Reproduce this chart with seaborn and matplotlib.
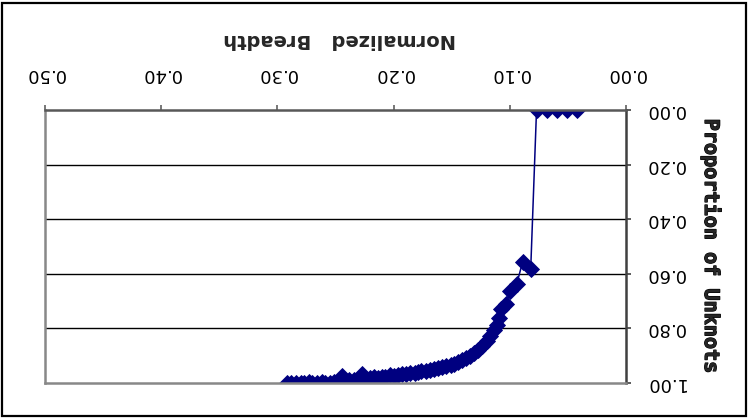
import matplotlib
matplotlib.use("Agg")
import matplotlib.pyplot as plt
import matplotlib.patches as mpatches
import matplotlib.patheffects as pe
import seaborn as sns
import pandas as pd

# Normalized breadth of each knot sample and the proportion of unknots found
breadth = [
    0.042, 0.051, 0.059, 0.068, 0.077,
    0.082, 0.089, 0.094, 0.100, 0.103, 0.108, 0.109, 0.111, 0.114, 0.117,
    0.120, 0.124, 0.127, 0.131, 0.134, 0.138, 0.141, 0.145, 0.148, 0.151,
    0.155, 0.158, 0.162, 0.165, 0.169, 0.172, 0.176, 0.179, 0.182, 0.186,
    0.189, 0.193, 0.196, 0.200, 0.203, 0.207, 0.210, 0.213, 0.217, 0.220,
    0.224, 0.227, 0.231, 0.234, 0.238, 0.241, 0.244, 0.248, 0.251, 0.255,
    0.259, 0.262, 0.266, 0.270, 0.273, 0.277, 0.280, 0.284, 0.288, 0.292,
]
unknots = [
    0.000, 0.000, 0.000, 0.000, 0.000,
    0.582, 0.557, 0.637, 0.663, 0.711, 0.729, 0.762, 0.788, 0.806, 0.828,
    0.846, 0.864, 0.879, 0.890, 0.901, 0.908, 0.916, 0.923, 0.930, 0.934,
    0.938, 0.941, 0.945, 0.949, 0.952, 0.956, 0.956, 0.960, 0.963, 0.963,
    0.967, 0.967, 0.971, 0.974, 0.971, 0.978, 0.978, 0.982, 0.978, 0.982,
    0.985, 0.967, 0.985, 0.989, 0.989, 0.993, 0.974, 0.996, 0.996, 1.000,
    1.000, 0.996, 1.000, 1.000, 0.996, 1.000, 1.000, 1.000, 1.000, 1.000,
]
x_ticks = [0.0, 0.1, 0.2, 0.3, 0.4, 0.5]
y_ticks = [0.0, 0.2, 0.4, 0.6, 0.8, 1.0]
x_title = "Normalized   Breadth"
y_title = "Proportion of Unknots"

df = pd.DataFrame({"breadth": breadth, "unknots": unknots})

sns.set_style("white")
plt.rcParams["font.family"] = ["DejaVu Sans"]

W, H = 750, 419
fig = plt.figure(figsize=(W / 100, H / 100), dpi=100)
fig.patch.set_facecolor("white")

left, right, top, bottom = 45, 626, 110, 383
ax = fig.add_axes([left / W, (H - bottom) / H, (right - left) / W, (bottom - top) / H])
ax.set_facecolor("white")

navy = "#000080"
sns.lineplot(data=df, x="breadth", y="unknots", sort=False, estimator=None,
             marker="D", markersize=8.3, markeredgewidth=0.6,
             markeredgecolor=navy, color=navy, linewidth=1.1, ax=ax)

# Whole chart is shown turned half a revolution
ax.set_xlim(0.5, 0.0)
ax.set_ylim(1.0, 0.0)

ax.set_axisbelow(True)
ax.set_xticks(x_ticks)
ax.set_yticks(y_ticks)
ax.set_xticklabels([f"{v:.2f}" for v in x_ticks])
ax.set_yticklabels([f"{v:.2f}" for v in y_ticks])
ax.xaxis.tick_top()
ax.yaxis.tick_right()
ax.tick_params(axis="x", direction="out", length=3.6, width=1.2, color="#606060",
               labelsize=13, pad=16, labelcolor="black")
ax.tick_params(axis="y", direction="out", length=3.6, width=1.2, color="#404040",
               labelsize=13, pad=10, labelcolor="black")
for lab in ax.get_xticklabels():
    lab.set_rotation(180)
for lab in ax.get_yticklabels():
    lab.set_rotation(180)
    lab.set_verticalalignment("center")

ax.grid(False)
for yv in y_ticks[1:-1]:
    ax.axhline(yv, color="black", linewidth=1.0, zorder=0.5)

ax.spines["top"].set_color("#585858")
ax.spines["top"].set_linewidth(1.8)
ax.spines["right"].set_color("#404040")
ax.spines["right"].set_linewidth(1.8)
ax.spines["left"].set_color("#888888")
ax.spines["left"].set_linewidth(1.8)
ax.spines["bottom"].set_color("#888888")
ax.spines["bottom"].set_linewidth(1.8)

ax.xaxis.set_label_position("top")
ax.set_xlabel(x_title, fontsize=14, fontweight="bold", rotation=180)
ax.xaxis.label.set_rotation_mode("anchor")
ax.xaxis.label.set_horizontalalignment("center")
ax.xaxis.label.set_verticalalignment("center")
ax.xaxis.set_label_coords((340 - left) / (right - left), (bottom - 39) / (bottom - top))

ax.yaxis.set_label_position("right")
ax.set_ylabel(y_title, fontsize=14.5, fontweight="heavy", rotation=270,
              family=["DejaVu Sans Mono"])
ax.yaxis.label.set_rotation_mode("anchor")
ax.yaxis.label.set_horizontalalignment("center")
ax.yaxis.label.set_verticalalignment("center")
ax.yaxis.label.set_path_effects([pe.withStroke(linewidth=0.9, foreground="black")])
ax.yaxis.set_label_coords((711 - left) / (right - left), (bottom - 246) / (bottom - top))

# Chart-area frame
fig.add_artist(mpatches.Rectangle((2 / W, 3 / H), 744 / W, 413 / H,
                                  transform=fig.transFigure, fill=False,
                                  edgecolor="black", linewidth=1.6))

fig.savefig("out.png", dpi=100, facecolor="white")
